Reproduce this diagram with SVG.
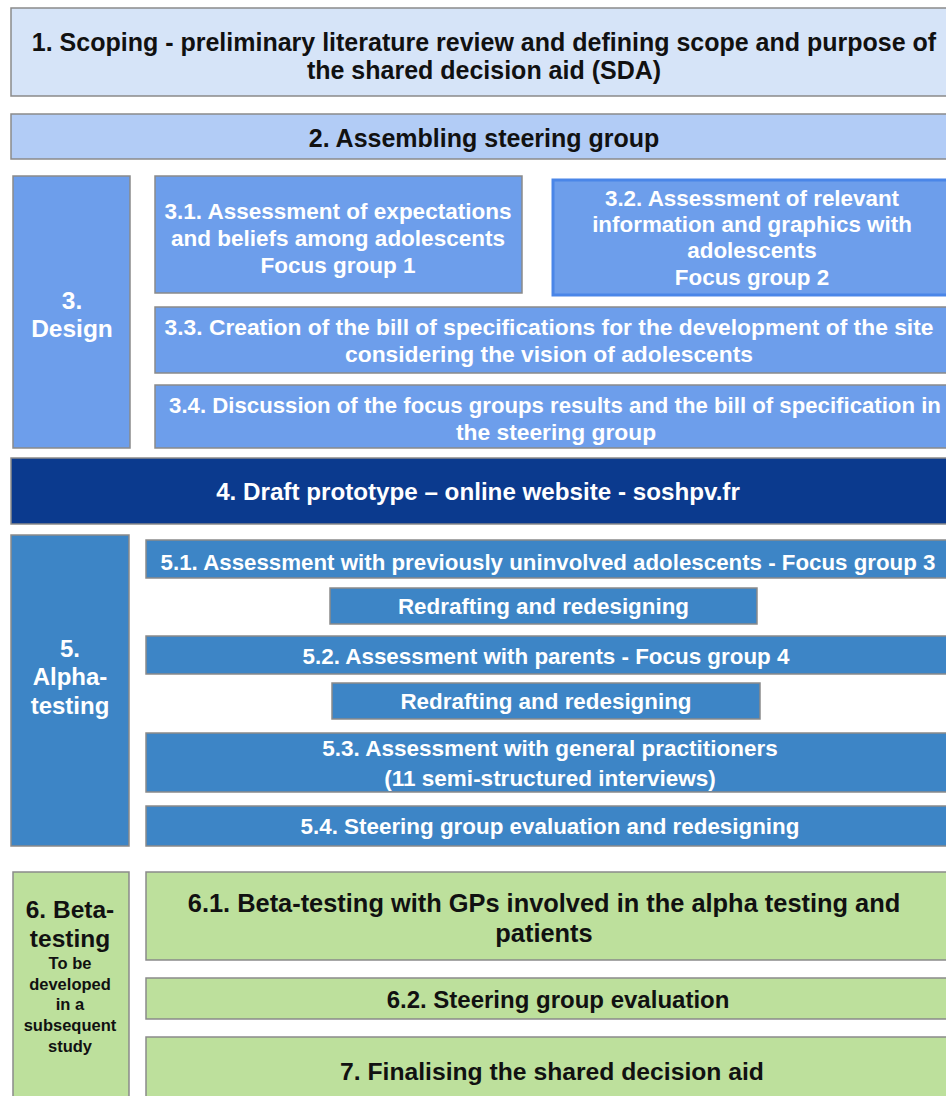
<svg xmlns="http://www.w3.org/2000/svg" width="946" height="1096" viewBox="0 0 946 1096">
<style>
rect{stroke:#8a8a8a;stroke-width:1.5}
text{font-family:"Liberation Sans",Arial,sans-serif;font-weight:bold;text-anchor:middle}
.k{fill:#111}
.w{fill:#fff}
.c1{fill:#d6e4f8}
.c2{fill:#b2ccf6}
.c3{fill:#6d9eeb}
.c4{fill:#0b3a8e}
.c5{fill:#3d85c6}
.c6{fill:#bde09c}
</style>
<rect width="946" height="1096" fill="#fff" style="stroke:none"/>
<g id="n1"><rect class="c1" x="11" y="8" width="950" height="88"/>
<text class="k" x="484" y="51" font-size="25">1. Scoping - preliminary literature review and defining scope and purpose of</text>
<text class="k" x="484" y="79" font-size="25">the shared decision aid (SDA)</text></g>
<g id="n2"><rect class="c2" x="11" y="114" width="950" height="45"/>
<text class="k" x="484" y="147" font-size="25">2. Assembling steering group</text></g>
<g id="n3"><rect class="c3" x="13" y="176" width="117" height="272"/>
<text class="w" x="72" y="309" font-size="24.5">3.</text>
<text class="w" x="72" y="337" font-size="24.5">Design</text></g>
<g id="n31"><rect class="c3" x="155" y="176" width="367" height="117"/>
<text class="w" x="338" y="219" font-size="22.5">3.1. Assessment of expectations</text>
<text class="w" x="338" y="246" font-size="22.5">and beliefs among adolescents</text>
<text class="w" x="338" y="273" font-size="22.5">Focus group 1</text></g>
<g id="n32"><rect class="c3" x="553" y="180" width="400" height="115" style="stroke:#4a86e8;stroke-width:3"/>
<text class="w" x="752" y="206" font-size="22.4">3.2. Assessment of relevant</text>
<text class="w" x="752" y="232" font-size="22.4">information and graphics with</text>
<text class="w" x="752" y="258" font-size="22.4">adolescents</text>
<text class="w" x="752" y="285" font-size="22.4">Focus group 2</text></g>
<g id="n33"><rect class="c3" x="155" y="307" width="800" height="66"/>
<text class="w" x="549" y="335" font-size="22.8">3.3. Creation of the bill of specifications for the development of the site</text>
<text class="w" x="549" y="362" font-size="22.8">considering the vision of adolescents</text></g>
<g id="n34"><rect class="c3" x="155" y="385" width="800" height="63"/>
<text class="w" x="555" y="413" font-size="22.2">3.4. Discussion of the focus groups results and the bill of specification in</text>
<text class="w" x="556" y="440" font-size="22.8">the steering group</text></g>
<g id="n4"><rect class="c4" x="11" y="458" width="950" height="66"/>
<text class="w" x="478" y="500" font-size="24.2">4. Draft prototype – online website - soshpv.fr</text></g>
<g id="n5"><rect class="c5" x="11" y="535" width="118" height="311"/>
<text class="w" x="70" y="657" font-size="24">5.</text>
<text class="w" x="70" y="685" font-size="24">Alpha-</text>
<text class="w" x="70" y="714" font-size="24">testing</text></g>
<g id="n51"><rect class="c5" x="146" y="540" width="810" height="38"/>
<text class="w" x="548" y="570" font-size="22.3">5.1. Assessment with previously uninvolved adolescents - Focus group 3</text></g>
<g id="n5r1"><rect class="c5" x="330" y="588" width="427" height="36"/>
<text class="w" x="543.5" y="614" font-size="22.4">Redrafting and redesigning</text></g>
<g id="n52"><rect class="c5" x="146" y="636" width="810" height="38"/>
<text class="w" x="546" y="664" font-size="22.4">5.2. Assessment with parents - Focus group 4</text></g>
<g id="n5r2"><rect class="c5" x="332" y="683" width="428" height="36"/>
<text class="w" x="546" y="709" font-size="22.4">Redrafting and redesigning</text></g>
<g id="n53"><rect class="c5" x="146" y="733" width="810" height="59"/>
<text class="w" x="550" y="756" font-size="22.5">5.3. Assessment with general practitioners</text>
<text class="w" x="550" y="786" font-size="22.5">(11 semi-structured interviews)</text></g>
<g id="n54"><rect class="c5" x="146" y="806" width="810" height="40"/>
<text class="w" x="550" y="834" font-size="22.4">5.4. Steering group evaluation and redesigning</text></g>
<g id="n6"><rect class="c6" x="13" y="872" width="116" height="240"/>
<text class="k" x="70" y="918" font-size="24.5">6. Beta-</text>
<text class="k" x="70" y="947" font-size="24.5">testing</text>
<text class="k" x="70" y="969" font-size="16.5">To be</text>
<text class="k" x="70" y="990" font-size="16.5">developed</text>
<text class="k" x="70" y="1010" font-size="16.5">in a</text>
<text class="k" x="70" y="1031" font-size="16.5">subsequent</text>
<text class="k" x="70" y="1052" font-size="16.5">study</text></g>
<g id="n61"><rect class="c6" x="146" y="872" width="810" height="88"/>
<text class="k" x="544" y="912" font-size="25.4">6.1. Beta-testing with GPs involved in the alpha testing and</text>
<text class="k" x="544" y="942" font-size="25.4">patients</text></g>
<g id="n62"><rect class="c6" x="146" y="978" width="810" height="41"/>
<text class="k" x="558" y="1008" font-size="24">6.2. Steering group evaluation</text></g>
<g id="n7"><rect class="c6" x="146" y="1037" width="810" height="80"/>
<text class="k" x="552" y="1080" font-size="24.7">7. Finalising the shared decision aid</text></g>
<g id="connectors"/>
</svg>
